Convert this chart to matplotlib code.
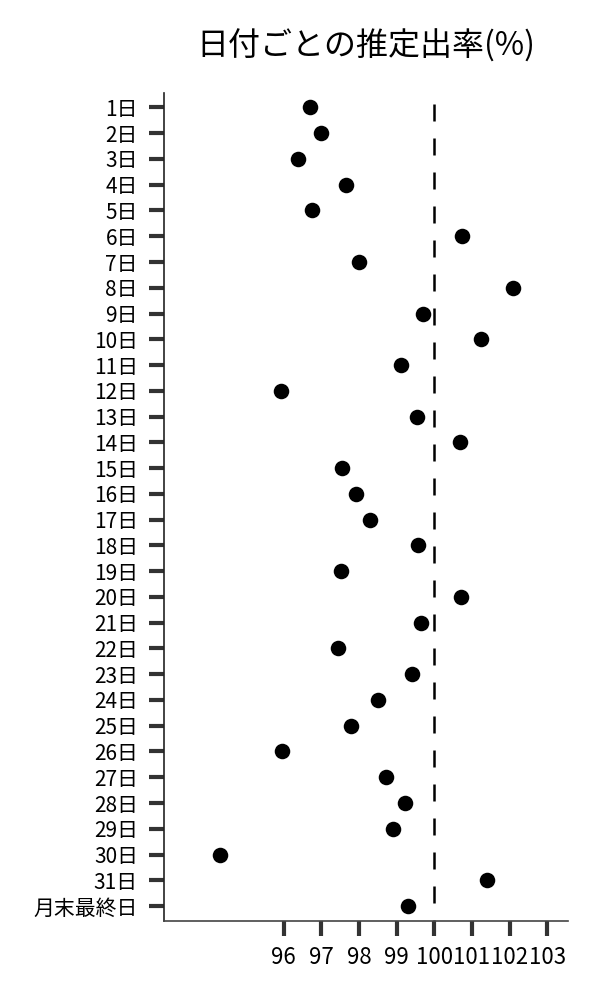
import matplotlib
matplotlib.use("Agg")
import matplotlib.pyplot as plt

plt.rcParams['font.family'] = ['Noto Sans CJK JP', 'DejaVu Sans']

categories = [f"{d}日" for d in range(1, 32)] + ["月末最終日"]
values = [96.70, 96.98, 96.37, 97.66, 96.76, 100.73, 98.01, 102.10, 99.69, 101.24,
          99.12, 95.92, 99.53, 100.68, 97.56, 97.93, 98.30, 99.56, 97.53, 100.70,
          99.65, 97.45, 99.40, 98.50, 97.79, 95.96, 98.72, 99.23, 98.91, 94.30,
          101.41, 99.30]
xticks = [96, 97, 98, 99, 100, 101, 102, 103]
reference = 100
title = "日付ごとの推定出率(%)"

fig = plt.figure(figsize=(6, 10), dpi=100)
ax = fig.add_axes([0.2733, 0.079, 0.6734, 0.828])

ypos = list(range(len(categories)))
ax.scatter(values, ypos, s=125, color='black', zorder=3, linewidths=0)
ax.plot([reference, reference], [-0.12, len(categories) - 0.42], color='black',
        linewidth=1.8, dashes=(6.8, 6.8), zorder=2)

ax.set_xlim(92.82, 103.55)
ax.set_ylim(len(categories) - 0.42, -0.56)
ax.set_yticks(ypos)
ax.set_yticklabels(categories)
ax.set_xticks(xticks)
ax.set_xticklabels([str(t) for t in xticks])

ax.tick_params(axis='both', length=10.8, width=3, color='#333333', labelsize=15,
               labelcolor='black', pad=8)
ax.tick_params(axis='x', pad=7, labelsize=16)

for s in ['top', 'right']:
    ax.spines[s].set_visible(False)
ax.spines['left'].set_linewidth(1.2)
ax.spines['left'].set_color('#222222')
ax.spines['bottom'].set_linewidth(1.2)
ax.spines['bottom'].set_color('#444444')

ax.set_title(title, fontsize=23, pad=27)

fig.savefig("out.png", dpi=100)
